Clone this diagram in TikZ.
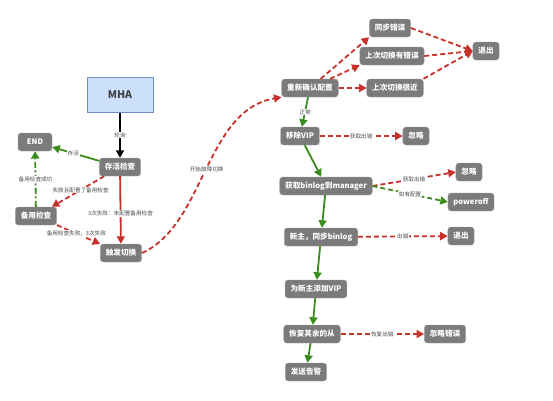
\documentclass[tikz,border=0pt]{standalone}
\usepackage{fontspec}
\setmainfont{Noto Sans CJK SC}
\usetikzlibrary{arrows.meta}
\definecolor{boxgray}{HTML}{7B7B7B}
\definecolor{failred}{HTML}{C8302A}
\definecolor{okgreen}{HTML}{3A8C1E}
\definecolor{mhablue}{HTML}{CCE0FB}
\definecolor{mhaedge}{HTML}{6E8FC4}
\tikzset{
  box/.style={draw=boxgray!70, fill=boxgray, rounded corners=3pt, text=white,
    font=\bfseries\fontsize{7.6}{9}\selectfont, minimum height=18pt, inner xsep=5.5pt},
  lbl/.style={fill=white, inner sep=0.6pt, text=black!70, font=\fontsize{5.6}{6.5}\selectfont},
  tip/.style={-{Triangle[length=7.5pt,width=8pt]}},
  fail/.style={tip, draw=failred, line width=1.8pt, dash pattern=on 5pt off 3pt},
  failsolid/.style={tip, draw=failred, line width=1.8pt},
  ok/.style={tip, draw=okgreen, line width=1.8pt},
  okdash/.style={tip, draw=okgreen, line width=1.8pt, dash pattern=on 5pt off 3pt},
}
\begin{document}
\begin{tikzpicture}[x=1pt, y=-1pt]
  \useasboundingbox (0,0) rectangle (553,400);
  % left part
  \node[draw=mhaedge, fill=mhablue, minimum width=66pt, minimum height=35pt,
    font=\bfseries\fontsize{10.5}{12}\selectfont, text=black!75] (mha) at (120,95) {MHA};
  \node[box] (alive) at (120,167) {存活检查};
  \node[box, minimum width=34pt] (end) at (35,142) {END};
  \node[box] (backup) at (36,216) {备用检查};
  \node[box] (trigger) at (121,253) {触发切换};
  % right part
  \node[box] (recheck) at (310,88) {重新确认配置};
  \node[box] (syncerr) at (390,28) {同步错误};
  \node[box] (lasterr) at (392,56) {上次切换有错误};
  \node[box] (lastnear) at (395,88) {上次切换很近};
  \node[box] (quitA) at (486,51) {退出};
  \node[box] (rmvip) at (300,136) {移除VIP};
  \node[box] (ignoreA) at (416,136) {忽略};
  \node[box] (binlog) at (326,186) {获取binlog到manager};
  \node[box] (ignoreB) at (469,172) {忽略};
  \node[box] (poweroff) at (471,202) {poweroff};
  \node[box] (newmaster) at (321,237) {新主，同步binlog};
  \node[box] (quitB) at (461,236) {退出};
  \node[box] (addvip) at (316,289) {为新主添加VIP};
  \node[box] (slaves) at (312,334) {恢复其余的从};
  \node[box] (ignoreC) at (445,334) {忽略错误};
  \node[box] (alarm) at (306,372) {发送告警};

  % connectors, left
  \draw[tip, line width=1.8pt] (mha) -- node[lbl] {轮询} (alive);
  \draw[ok] (alive) -- node[lbl, pos=0.55] {存活} (end);
  \draw[fail] (alive) -- node[lbl, pos=0.45] {失败且配置了备用检查} (backup);
  \draw[failsolid] (alive) -- node[lbl, pos=0.55] {3次失败：未配置备用检查} (trigger);
  \draw[okdash, dash pattern=on 6pt off 2.5pt on 2pt off 2.5pt] (backup) -- node[lbl] {备用检查成功} (end);
  \draw[fail] (backup) -- node[lbl, pos=0.45] {备用检查失败，3次失败} (trigger);
  \draw[fail] (trigger.east) .. controls (205,225) and (205,110) .. node[lbl, pos=0.5] {开始故障切换} (recheck.south west);

  % connectors, right
  \draw[fail] (recheck) -- (syncerr.south west);
  \draw[fail] (recheck) -- (lasterr.south west);
  \draw[fail] (recheck) -- (lastnear);
  \draw[fail] (syncerr.east) -- (quitA.west);
  \draw[fail] (lasterr.east) -- (quitA.west);
  \draw[fail] (lastnear.north east) -- (quitA.west);
  \draw[ok] (recheck) -- node[lbl] {正常} (rmvip);
  \draw[fail] (rmvip) -- node[lbl] {获取出错} (ignoreA);
  \draw[ok] (rmvip) -- (binlog);
  \draw[fail] (binlog.east) -- node[lbl] {获取出错} (ignoreB.west);
  \draw[okdash] (binlog.east) -- node[lbl] {如有配置} (poweroff.west);
  \draw[ok] (binlog) -- (newmaster);
  \draw[fail] (newmaster) -- node[lbl] {出错} (quitB);
  \draw[ok] (newmaster) -- (addvip);
  \draw[ok] (addvip) -- (slaves);
  \draw[fail] (slaves) -- node[lbl] {恢复出错} (ignoreC);
  \draw[ok] (slaves) -- (alarm);
\end{tikzpicture}
\end{document}
